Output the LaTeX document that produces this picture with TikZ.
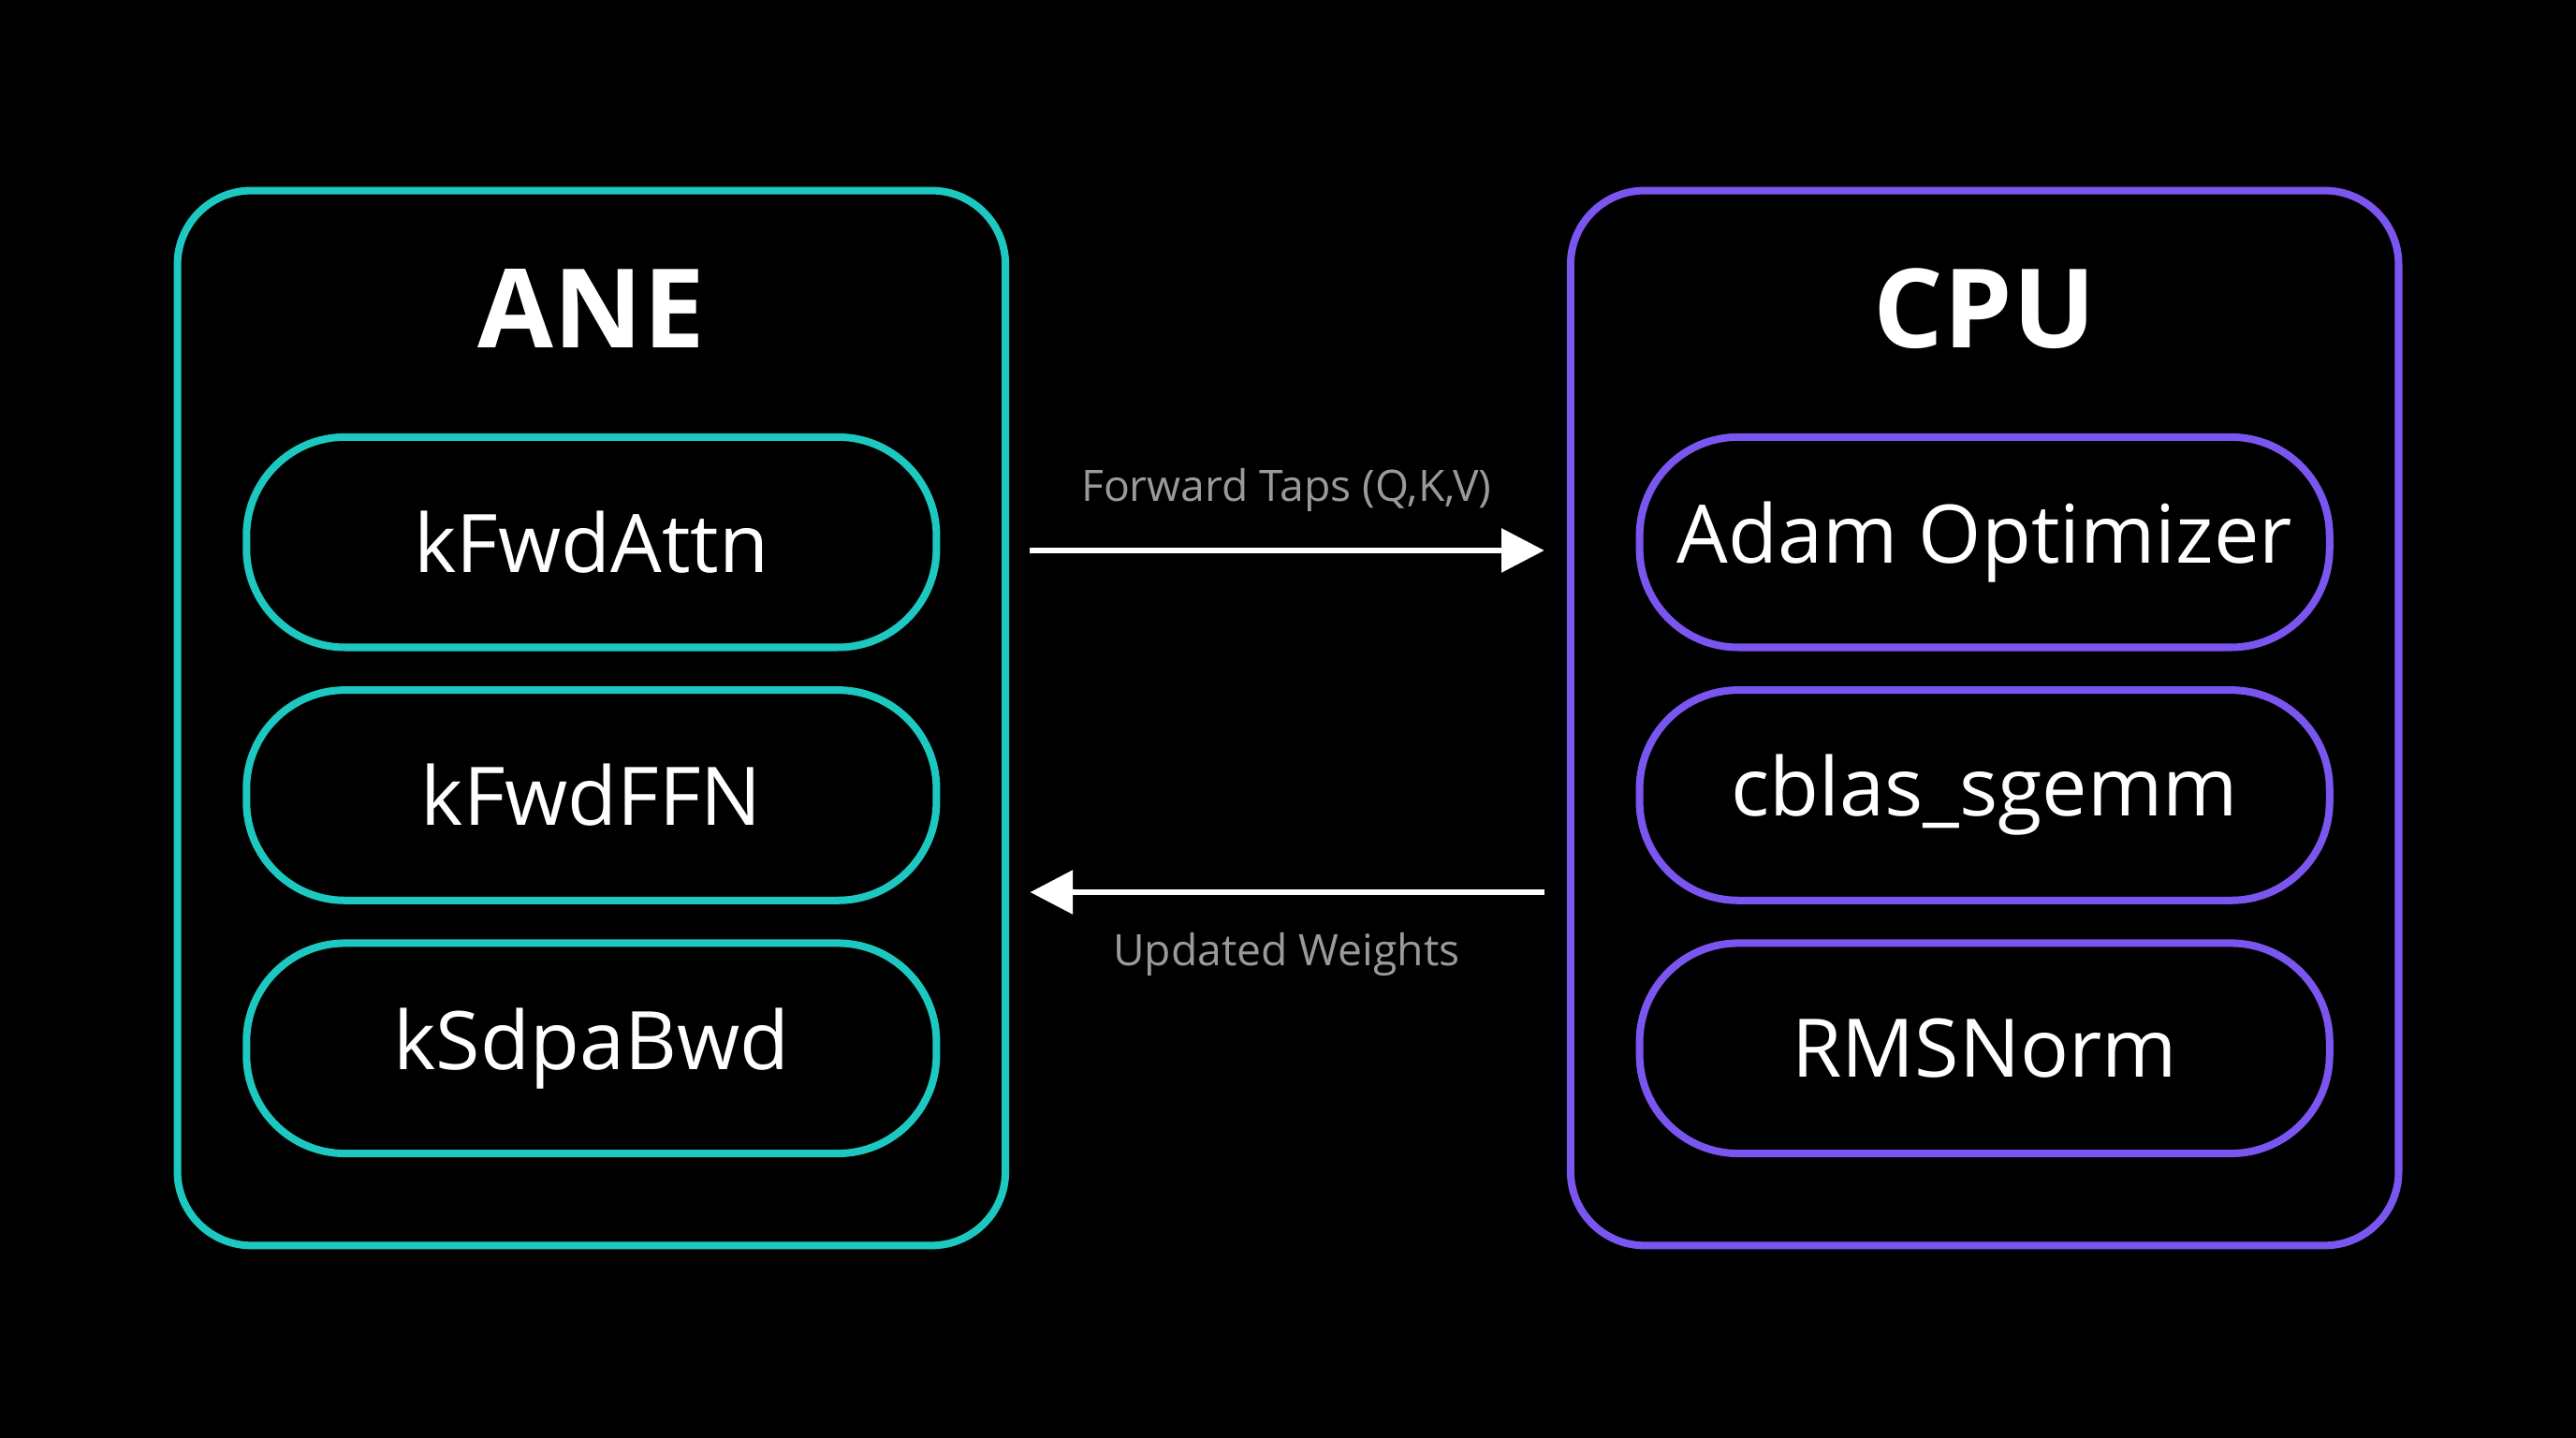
\documentclass[tikz,border=0pt]{standalone}
\usepackage{fontspec}
\setmainfont{Open Sans}
\usetikzlibrary{positioning,arrows.meta}
\definecolor{aneteal}{HTML}{1CC8C0}
\definecolor{cpupurple}{HTML}{7B55F0}
\definecolor{labelgray}{HTML}{9A9A9A}
\tikzset{
  unit/.style={draw=#1, line width=1.3pt, rounded corners=0.45cm, minimum width=5.04cm, minimum height=6.42cm},
  kernel/.style={draw=#1, line width=1.3pt, rounded corners=0.6cm, minimum width=4.2cm, minimum height=1.28cm, text=white, font=\fontsize{14}{16}\selectfont},
  title/.style={text=white, font=\fontsize{19}{22}\selectfont\bfseries},
  flow/.style={draw=white, line width=1.1pt, -{Triangle[length=0.26cm,width=0.26cm]}},
  flowlabel/.style={text=labelgray, font=\fontsize{7.5}{9}\selectfont}
}
\begin{document}
\begin{tikzpicture}
\fill[black] (0,0) rectangle (15.68,8.75);
\useasboundingbox (0,0) rectangle (15.68,8.75);
% ANE side
\node[unit=aneteal] (ane) at (3.60,4.38) {};
\node[title] (anetitle) at (3.60,6.87) {ANE};
\node[kernel=aneteal] (attn) at (3.60,5.45) {kFwdAttn};
\node[kernel=aneteal] (ffn) at (3.60,3.91) {kFwdFFN};
\node[kernel=aneteal] (sdpa) at (3.60,2.37) {kSdpaBwd};
% CPU side
\node[unit=cpupurple] (cpu) at (12.08,4.38) {};
\node[title] (cputitle) at (12.08,6.87) {CPU};
\node[kernel=cpupurple] (adam) at (12.08,5.45) {Adam Optimizer};
\node[kernel=cpupurple] (sgemm) at (12.08,3.91) {cblas\_sgemm};
\node[kernel=cpupurple] (rms) at (12.08,2.37) {RMSNorm};
% transfers
\coordinate (fwdstart) at (6.27,5.40);
\coordinate (fwdend) at (9.40,5.40);
\coordinate (bwdstart) at (9.40,3.32);
\coordinate (bwdend) at (6.27,3.32);
\draw[flow] (fwdstart) -- (fwdend);
\draw[flow] (bwdstart) -- (bwdend);
\node[flowlabel] (fwdlabel) at (7.83,5.77) {Forward Taps (Q,K,V)};
\node[flowlabel] (bwdlabel) at (7.83,2.94) {Updated Weights};
\end{tikzpicture}
\end{document}
